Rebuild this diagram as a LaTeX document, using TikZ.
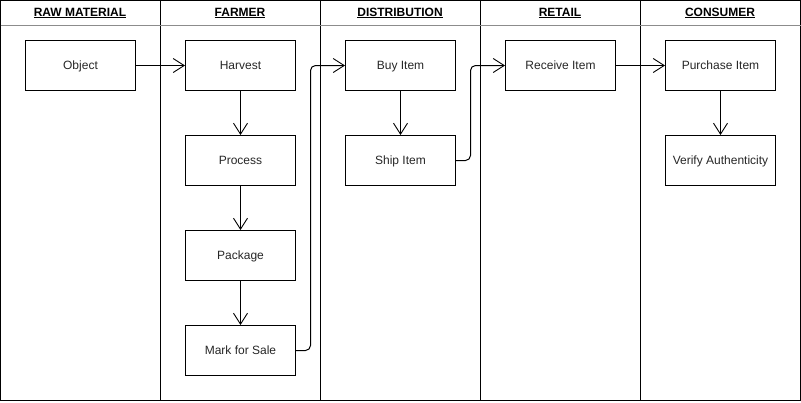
\documentclass[tikz,border=0pt]{standalone}
\usepackage{fontspec}
\setmainfont{Liberation Sans}
\usetikzlibrary{arrows.meta}
\begin{document}
\begin{tikzpicture}[x=1pt,y=-1pt,
  box/.style={draw,line width=1pt,minimum width=110pt,minimum height=50pt,inner sep=0pt,text height=9.6pt,text depth=2.4pt,font=\fontsize{12}{14}\selectfont,text=black!85},
  head/.style={font=\fontsize{12}{14}\selectfont\bfseries,inner sep=0pt,text height=8.6pt,text depth=2.6pt},
  flow/.style={line width=1pt,-{Straight Barb[length=11pt,width=14pt,line width=0.9pt]},rounded corners=5pt}]
\useasboundingbox (0,0) rectangle (801,402);
% lanes
\draw[line width=1pt] (0.5,0.5) rectangle (800.5,400.5);
\foreach \x in {160.5,320.5,480.5,640.5} \draw[line width=1pt] (\x,0.5) -- (\x,400.5);
\draw[line width=1pt,black!45] (0.5,25.5) -- (800.5,25.5);
% headers
\node[head] (h1) at (80,13) {\underline{RAW MATERIAL}};
\node[head] (h2) at (240,13) {\underline{FARMER}};
\node[head] (h3) at (400,13) {\underline{DISTRIBUTION}};
\node[head] (h4) at (560,13) {\underline{RETAIL}};
\node[head] (h5) at (720,13) {\underline{CONSUMER}};
% boxes
\node[box] (obj) at (80.5,65.5) {Object};
\node[box] (harv) at (240.5,65.5) {Harvest};
\node[box] (proc) at (240.5,160.5) {Process};
\node[box] (pack) at (240.5,255.5) {Package};
\node[box] (mark) at (240.5,350.5) {Mark for Sale};
\node[box] (buy) at (400.5,65.5) {Buy Item};
\node[box] (ship) at (400.5,160.5) {Ship Item};
\node[box] (recv) at (560.5,65.5) {Receive Item};
\node[box] (purch) at (720.5,65.5) {Purchase Item};
\node[box] (ver) at (720.5,160.5) {Verify Authenticity};
% connectors
\draw[flow] (obj) -- (harv);
\draw[flow] (harv) -- (proc);
\draw[flow] (proc) -- (pack);
\draw[flow] (pack) -- (mark);
\draw[flow] (mark.east) -- (310.5,350.5) -- (310.5,65.5) -- (buy.west);
\draw[flow] (buy) -- (ship);
\draw[flow] (ship.east) -- (470.5,160.5) -- (470.5,65.5) -- (recv.west);
\draw[flow] (recv) -- (purch);
\draw[flow] (purch) -- (ver);
\end{tikzpicture}
\end{document}
